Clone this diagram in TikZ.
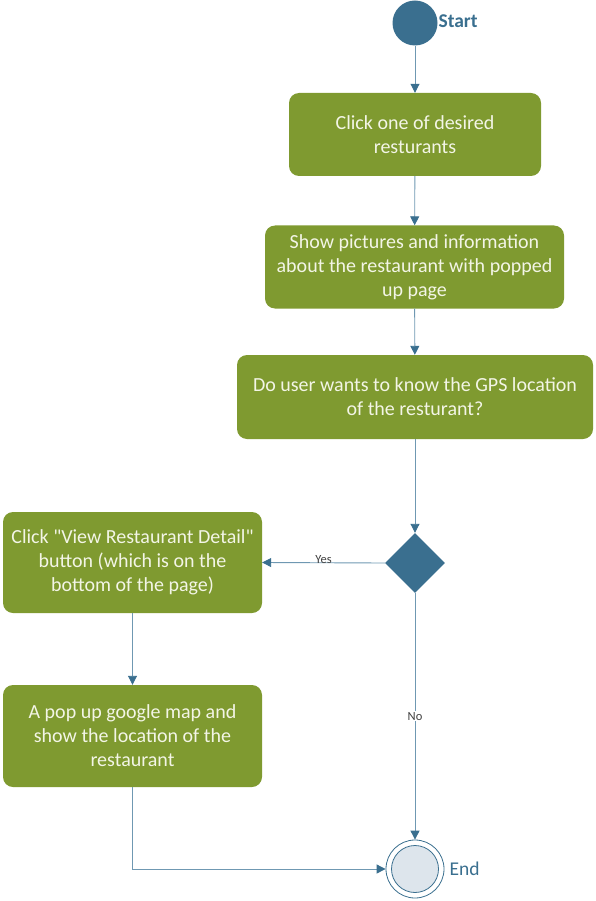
\documentclass[tikz,border=0pt]{standalone}
\usepackage{fontspec}
\setmainfont{Carlito}
\usetikzlibrary{arrows.meta,shapes.geometric}
\definecolor{actgreen}{HTML}{7F9A30}
\definecolor{nodeblue}{HTML}{3A6F8F}
\definecolor{flowline}{HTML}{6F98B2}
\definecolor{endfill}{HTML}{DDE5EC}
\definecolor{boxtext}{HTML}{F3F5E6}
\tikzset{
  action/.style={draw=none, fill=actgreen, rounded corners=10pt, align=center,
    text=boxtext, font=\fontsize{20}{24}\selectfont, inner sep=0pt},
  flow/.style={draw=flowline, line width=0.9pt,
    -{Triangle[width=9pt,length=9pt,fill=nodeblue,color=nodeblue]}},
  guard/.style={font=\fontsize{12.5}{14}\selectfont, text=black!75, inner sep=1pt}
}
\begin{document}
\begin{tikzpicture}[x=1pt,y=-1pt]
\useasboundingbox (0,0) rectangle (595,901);
\node[circle, fill=nodeblue, minimum size=45pt, inner sep=0pt] (start) at (415,23) {};
\node[anchor=west, text=nodeblue, font=\fontsize{19.5}{22}\bfseries] (startlbl) at (435,21) {Start};
\node[action, minimum width=252pt, minimum height=83pt] (click) at (415,134.5) {Click one of desired\\resturants};
\node[action, minimum width=299pt, minimum height=83pt] (show) at (414.5,267) {Show pictures and information\\about the restaurant with popped\\up page};
\node[action, minimum width=356pt, minimum height=84pt] (ask) at (415,397) {Do user wants to know the GPS location\\of the resturant?};
\node[diamond, fill=nodeblue, minimum width=60pt, minimum height=60pt, inner sep=0pt] (dec) at (415,563) {};
\node[action, minimum width=259pt, minimum height=101pt] (detail) at (132.5,562.5) {Click \textquotedbl View Restaurant Detail\textquotedbl\\button (which is on the\\bottom of the page)};
\node[action, minimum width=259pt, minimum height=102pt] (map) at (132.5,736) {A pop up google map and\\show the location of the\\restaurant};
\node[circle, draw=nodeblue, line width=0.8pt, fill=white, minimum size=58pt, inner sep=0pt] (end) at (415,869) {};
\node[circle, draw=nodeblue, line width=0.8pt, fill=endfill, minimum size=47pt, inner sep=0pt] (endin) at (415,869) {};
\node[anchor=west, text=nodeblue, font=\fontsize{19.5}{22}\selectfont] (endlbl) at (446,869) {End};
\coordinate (corner) at (map.south |- end.west);

\draw[flow] (start) -- (click);
\draw[flow] (click) -- (show);
\draw[flow] (show) -- (ask);
\draw[flow] (ask) -- (dec);
\draw[flow] (dec.west) -- node[guard, pos=0.5, yshift=3pt] {Yes} (detail.east);
\draw[flow] (detail) -- (map);
\draw[flow] (dec.south) -- node[guard, fill=white, pos=0.5] {No} (end.north);
\draw[flow] (map.south) -- (corner) -- (end.west);
\end{tikzpicture}
\end{document}
